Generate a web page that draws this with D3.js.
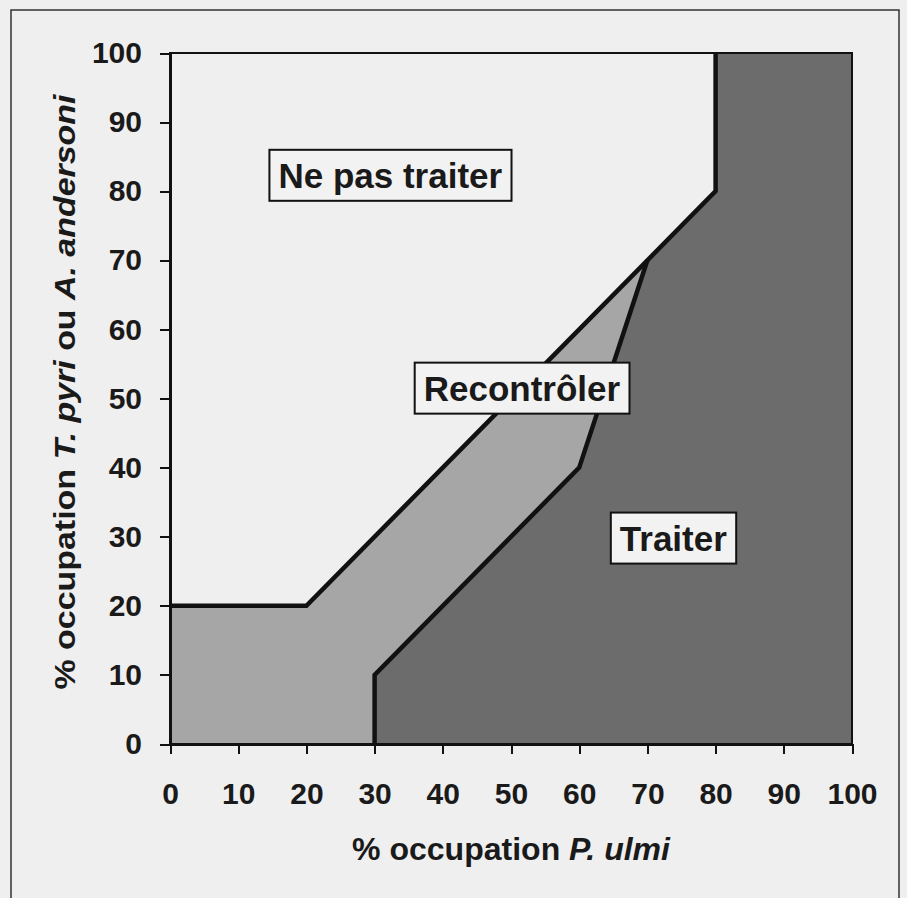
<!doctype html>
<html lang='fr'>
<head>
<meta charset='UTF-8'>
<title>Seuils d'intervention</title>
<style>
  body, html {
    margin: 0;
    padding: 0;
    background: #efefef;
    font-family: Arial, 'Liberation Sans', sans-serif;
  }
  .axis path, .axis line {
    stroke: #111;
    stroke-width: 2px;
    shape-rendering: crispEdges;
  }
  .axis text {
    font-size: 30px;
    font-weight: bold;
    fill: #1a1a1a;
  }
  .threshold {
    fill: none;
    stroke: #111;
    stroke-width: 4.5px;
    stroke-linejoin: miter;
  }
  .zone-label {
    font-size: 35px;
    font-weight: bold;
    fill: #1a1a1a;
    text-anchor: middle;
  }
</style>
</head>
<body>
<script src='https://d3js.org/d3.v7.min.js'></script>
<script>
  // ticks
  const xTicks = [0, 10, 20, 30, 40, 50, 60, 70, 80, 90, 100]
  const yTicks = [0, 10, 20, 30, 40, 50, 60, 70, 80, 90, 100]

  // seuil haut : au-dessus -> ne pas traiter
  const upperX = [0, 20, 70, 80, 80]
  const upperY = [20, 20, 70, 80, 100]

  // seuil bas : en dessous / à droite -> traiter
  const lowerX = [30, 30, 60, 70]
  const lowerY = [0, 10, 40, 70]

  // étiquettes des zones (centre en unités des axes)
  const zoneNames = ['Ne pas traiter', 'Recontrôler', 'Traiter']
  const zoneX = [32.3, 51.6, 73.8]
  const zoneY = [82.3, 51.5, 29.8]

  const w = 907
  const h = 898
  const margin = {top: 53, bottom: 154, left: 170, right: 55}
  const width = w - margin.left - margin.right
  const height = h - margin.top - margin.bottom

  const x = d3.scaleLinear().domain([0, 100]).range([0, width])
  const y = d3.scaleLinear().domain([0, 100]).range([height, 0])

  const svg = d3.select('body').append('svg')
    .attr('width', w)
    .attr('height', h)
    .style('display', 'block')

  svg.append('rect')
    .attr('width', w).attr('height', h)
    .attr('fill', '#efefef')

  // cadre extérieur
  svg.append('rect')
    .attr('x', 11).attr('y', 10)
    .attr('width', 888).attr('height', 900)
    .attr('fill', 'none')
    .attr('stroke', '#333')
    .attr('stroke-width', 1.5)

  const chart = svg.append('g')
    .attr('transform', `translate(${margin.left}, ${margin.top})`)

  const upper = upperX.map((d, i) => [d, upperY[i]])
  const lower = lowerX.map((d, i) => [d, lowerY[i]])
  const toPx = p => [x(p[0]), y(p[1])]

  // zone recontrôler : entre les deux seuils
  const midZone = [[0, 0]]
    .concat(upper.slice(0, 3))
    .concat(lower.slice().reverse())
  // zone traiter : à droite du seuil bas
  const treatZone = lower
    .concat(upper.slice(3))
    .concat([[100, 100], [100, 0]])

  chart.append('path')
    .attr('d', d3.line()(midZone.map(toPx)) + 'Z')
    .attr('fill', '#a6a6a6')

  chart.append('path')
    .attr('d', d3.line()(treatZone.map(toPx)) + 'Z')
    .attr('fill', '#6c6c6c')

  // bord du graphique
  chart.append('rect')
    .attr('width', width).attr('height', height)
    .attr('fill', 'none')
    .attr('stroke', '#111')
    .attr('stroke-width', 2)
    .style('shape-rendering', 'crispEdges')

  chart.append('path')
    .classed('threshold', true)
    .attr('d', d3.line()(upper.map(toPx)))

  chart.append('path')
    .classed('threshold', true)
    .attr('d', d3.line()(lower.map(toPx)))

  // axes
  chart.append('g')
    .classed('x axis', true)
    .attr('transform', `translate(0, ${height})`)
    .call(d3.axisBottom(x).tickValues(xTicks).tickSize(10).tickPadding(29).tickSizeOuter(0))
    .selectAll('text')
    .attr('dy', '0.71em')

  chart.append('g')
    .classed('y axis', true)
    .call(d3.axisLeft(y).tickValues(yTicks).tickSize(10).tickPadding(18).tickSizeOuter(0))

  // titres
  const xTitle = svg.append('text')
    .attr('x', margin.left + width / 2)
    .attr('y', 860)
    .attr('text-anchor', 'middle')
    .attr('textLength', 318)
    .attr('lengthAdjust', 'spacingAndGlyphs')
    .style('font-size', '31px')
    .style('font-weight', 'bold')
    .attr('fill', '#1a1a1a')
  xTitle.append('tspan').text('% occupation ')
  xTitle.append('tspan').style('font-style', 'italic').text('P. ulmi')

  const yTitle = svg.append('text')
    .attr('transform', 'translate(75, 392) rotate(-90)')
    .attr('text-anchor', 'middle')
    .attr('textLength', 595)
    .attr('lengthAdjust', 'spacingAndGlyphs')
    .style('font-size', '29px')
    .style('font-weight', 'bold')
    .attr('fill', '#1a1a1a')
  yTitle.append('tspan').text('% occupation ')
  yTitle.append('tspan').style('font-style', 'italic').text('T. pyri')
  yTitle.append('tspan').text(' ou ')
  yTitle.append('tspan').style('font-style', 'italic').text('A. andersoni')

  // étiquettes encadrées
  const labels = chart.selectAll('.zone')
    .data(zoneNames)
    .enter()
    .append('g')
    .classed('zone', true)
    .attr('transform', (d, i) => `translate(${x(zoneX[i])}, ${y(zoneY[i])})`)

  labels.append('text')
    .classed('zone-label', true)
    .attr('dy', '0.36em')
    .text(d => d)

  labels.each(function() {
    const g = d3.select(this)
    const bb = g.select('text').node().getBBox()
    g.insert('rect', 'text')
      .attr('x', bb.x - 9)
      .attr('y', -25.5)
      .attr('width', bb.width + 18)
      .attr('height', 51)
      .attr('fill', '#f2f2f2')
      .attr('stroke', '#111')
      .attr('stroke-width', 2)
  })
</script>
</body>
</html>
